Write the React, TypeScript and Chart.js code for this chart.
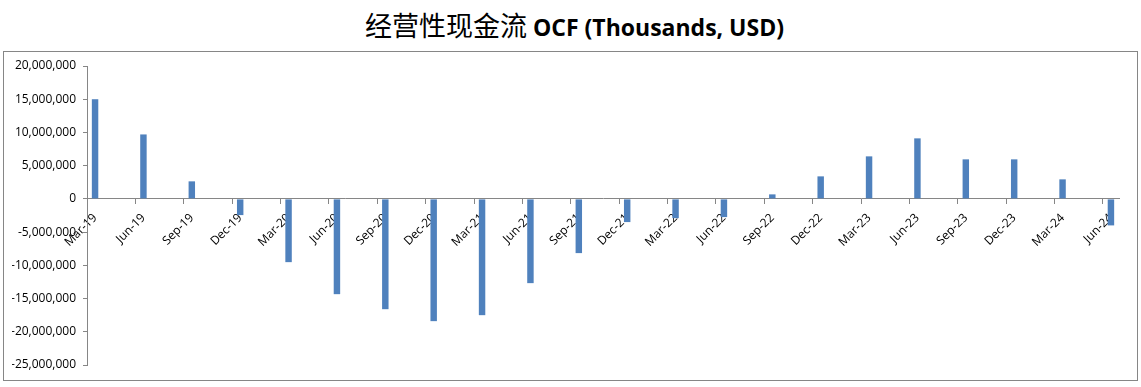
import React, { useEffect, useRef } from 'react';
import { Chart, registerables } from 'chart.js';

Chart.register(...registerables);

// Quarter-end labels shown on the axis
const quarterLabels = [
  'Mar-19', 'Jun-19', 'Sep-19', 'Dec-19',
  'Mar-20', 'Jun-20', 'Sep-20', 'Dec-20',
  'Mar-21', 'Jun-21', 'Sep-21', 'Dec-21',
  'Mar-22', 'Jun-22', 'Sep-22', 'Dec-22',
  'Mar-23', 'Jun-23', 'Sep-23', 'Dec-23',
  'Mar-24', 'Jun-24',
];

// Operating cash flow (thousands, USD) per quarter
const ocfValues = [
  15000000, 9700000, 2640000, -2440000,
  -9520000, -14340000, -16600000, -18400000,
  -17500000, -12680000, -8160000, -3490000,
  -2900000, -2740000, 680000, 3390000,
  6400000, 9110000, 5950000, 5950000,
  2940000, -3990000,
];

// Months between quarter ends (date axis with monthly base unit)
const monthNames = ['Jan', 'Feb', 'Mar', 'Apr', 'May', 'Jun', 'Jul', 'Aug', 'Sep', 'Oct', 'Nov', 'Dec'];

const yMin = -25000000;
const yMax = 20000000;
const yStep = 5000000;

const title = { zh: '经营性现金流', en: 'OCF (Thousands, USD)' };

// Build the monthly slot table: each quarter value sits in its own month slot
const monthLabels: string[] = [];
const monthValues: (number | null)[] = [];
quarterLabels.forEach((q, i) => {
  const [mon, yr] = q.split('-');
  const m = monthNames.indexOf(mon);
  monthLabels.push(q);
  monthValues.push(ocfValues[i]);
  if (i < quarterLabels.length - 1) {
    for (let k = 1; k <= 2; k++) {
      monthLabels.push(monthNames[(m + k) % 12] + '-' + yr);
      monthValues.push(null);
    }
  }
});

const AXIS_GRAY = '#868686';

export default function App() {
  const ref = useRef<HTMLCanvasElement>(null);

  useEffect(() => {
    document.body.style.margin = '0';
    const chart = new Chart(ref.current as HTMLCanvasElement, {
      type: 'bar',
      data: {
        labels: monthLabels,
        datasets: [
          {
            data: monthValues,
            backgroundColor: '#4F81BD',
            borderWidth: 0,
            barPercentage: 0.4,
            categoryPercentage: 1,
          },
        ],
      },
      options: {
        animation: false,
        responsive: false,
        layout: { padding: { left: 12, top: 66, right: 22, bottom: 22 } },
        plugins: {
          legend: { display: false },
          tooltip: { enabled: false },
          title: { display: false },
        },
        scales: {
          x: {
            position: { y: 0 } as any,
            offset: true,
            grid: {
              offset: true,
              drawOnChartArea: false,
              drawTicks: true,
              tickLength: 5,
              color: (ctx: any) => (ctx.index % 3 === 0 ? AXIS_GRAY : 'rgba(0,0,0,0)'),
              tickColor: (ctx: any) => (ctx.index % 3 === 0 ? AXIS_GRAY : 'rgba(0,0,0,0)'),
            },
            border: { color: AXIS_GRAY, width: 1 },
            ticks: {
              autoSkip: false,
              minRotation: 45,
              maxRotation: 45,
              padding: 7,
              color: '#000',
              font: { family: 'Open Sans', size: 12 },
              callback: (_v: any, i: number) => (i % 3 === 0 ? monthLabels[i] : ''),
            },
          },
          y: {
            min: yMin,
            max: yMax,
            ticks: {
              stepSize: yStep,
              padding: 7,
              color: '#000',
              font: { family: 'Open Sans', size: 12 },
              callback: (v: any) => Number(v).toLocaleString('en-US'),
            },
            grid: { drawOnChartArea: false, tickLength: 4, color: AXIS_GRAY },
            border: { color: AXIS_GRAY, width: 1 },
            afterFit: (s: any) => {
              s.width = 75;
            },
          },
        },
      },
    });
    return () => chart.destroy();
  }, []);

  return (
    <div style={{ position: 'fixed', left: 0, top: 0, width: 1141, height: 387, background: '#fff' }}>
      <div
        style={{
          position: 'absolute',
          left: 365,
          top: 8,
          whiteSpace: 'nowrap',
          lineHeight: '34px',
          color: '#000',
        }}
      >
        <span style={{ fontFamily: '"Noto Sans CJK SC"', fontSize: 27, fontWeight: 400 }}>{title.zh}</span>
        <span style={{ fontFamily: '"Open Sans"', fontSize: 23, fontWeight: 700 }}> {title.en}</span>
      </div>
      <div
        style={{
          position: 'absolute',
          left: 3,
          top: 51,
          width: 1135,
          height: 330,
          boxSizing: 'border-box',
          border: `1px solid ${AXIS_GRAY}`,
        }}
      />
      <canvas ref={ref} width={1141} height={387} style={{ position: 'absolute', left: 0, top: 0 }} />
    </div>
  );
}
